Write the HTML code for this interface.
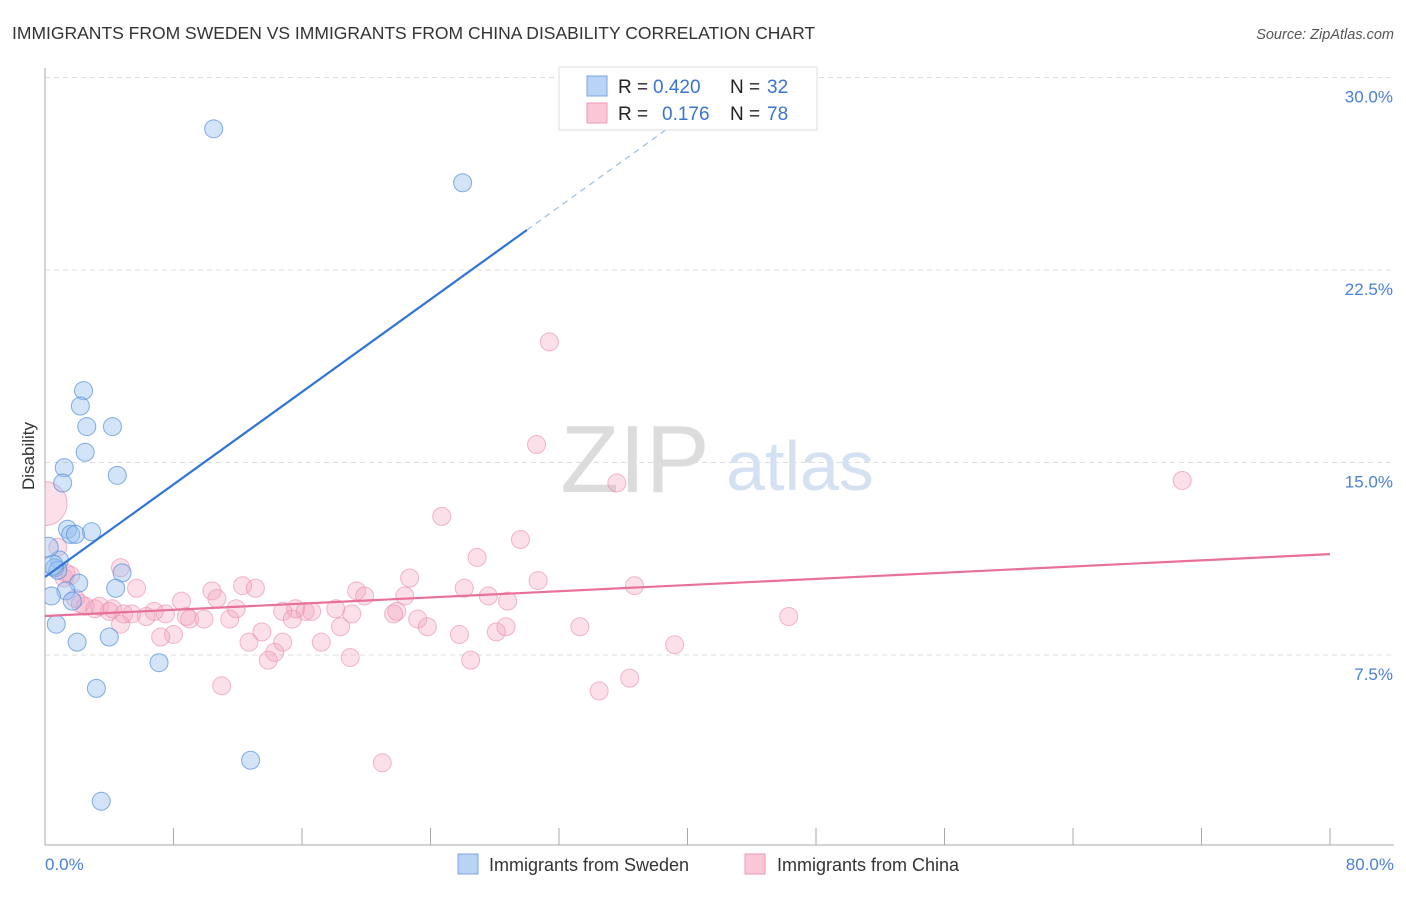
<!DOCTYPE html><html><head><meta charset="utf-8"><style>
body{margin:0;background:#fff;font-family:"Liberation Sans",sans-serif;}
svg text{font-family:"Liberation Sans",sans-serif;}
</style></head><body>
<svg width="1406" height="892">
<defs><clipPath id="plotclip"><rect x="45" y="60" width="1360" height="785"/></clipPath></defs>
<text x="12" y="39" font-size="17.5" fill="#333">IMMIGRANTS FROM SWEDEN VS IMMIGRANTS FROM CHINA DISABILITY CORRELATION CHART</text>
<text x="1394" y="39" font-size="14.5" fill="#555" font-style="italic" text-anchor="end">Source: ZipAtlas.com</text>
<g id="grid"></g>
<text x="635" y="492" font-size="96" fill="#dcdcdc" font-family="Liberation Serif" text-anchor="middle">ZIP</text>
<text x="800" y="490" font-size="70" fill="#d3e1f3" text-anchor="middle">atlas</text>
<g id="pts" clip-path="url(#plotclip)"></g><g id="lines"></g>
<text x="34" y="456" font-size="17" fill="#333" text-anchor="middle" transform="rotate(-90 34 456)">Disability</text>
<text x="45" y="870" font-size="17" fill="#4a7fd6">0.0%</text>
<text x="1394" y="870" font-size="17" fill="#4a7fd6" text-anchor="end">80.0%</text>
<g>
<rect x="559" y="67" width="258" height="63" fill="#fff" stroke="#ddd"/>
<rect x="587" y="76" width="20" height="20" fill="#b8d3f5" stroke="#7aa6e0"/>
<rect x="587" y="103" width="20" height="20" fill="#f9c7d6" stroke="#ee9ab5"/>
<text x="618" y="93" font-size="19" fill="#222">R =</text>
<text x="653" y="93" font-size="19" fill="#3a74d0">0.420</text>
<text x="730" y="93" font-size="19" fill="#222">N =</text>
<text x="767" y="93" font-size="19" fill="#3a74d0">32</text>
<text x="618" y="120" font-size="19" fill="#222">R =</text>
<text x="662" y="120" font-size="19" fill="#3a74d0">0.176</text>
<text x="730" y="120" font-size="19" fill="#222">N =</text>
<text x="767" y="120" font-size="19" fill="#3a74d0">78</text>
</g>
<g>
<rect x="458" y="854" width="20" height="20" fill="#b8d3f5" stroke="#7aa6e0"/>
<text x="489" y="871" font-size="18" fill="#333">Immigrants from Sweden</text>
<rect x="745" y="854" width="20" height="20" fill="#f9c7d6" stroke="#ee9ab5"/>
<text x="777" y="871" font-size="18" fill="#333">Immigrants from China</text>
</g>
</svg>
<script>
const yTicks=[7.5,15,22.5,30];
const swedenX=[10.5,26.0,2.4,2.2,2.6,4.2,2.5,1.2,4.5,1.1,1.4,1.6,1.9,2.9,0.9,0.6,0.8,4.8,2.1,1.3,0.4,4.4,1.7,0.7,4.0,2.0,7.1,3.2,12.8,3.5,0.2,0.5];
const swedenY=[28.0,25.9,17.8,17.2,16.4,16.4,15.4,14.8,14.5,14.2,12.4,12.2,12.2,12.3,11.2,10.9,10.8,10.7,10.3,10.0,9.8,10.1,9.6,8.7,8.2,8.0,7.2,6.2,3.4,1.8,11.7,11.0];
const chinaX=[31.4,30.6,35.6,70.8,24.7,29.6,26.9,22.7,30.7,36.7,26.1,27.6,28.8,19.4,19.9,22.4,18.1,19.1,21.9,21.7,23.2,23.8,25.8,28.1,28.7,33.3,46.3,39.2,19.0,26.5,34.5,36.4,11.0,21.0,5.7,4.7,10.4,10.7,12.3,13.1,8.5,11.9,7.5,8.8,6.8,5.4,6.3,9.9,11.5,9.0,4.7,13.5,16.2,15.6,14.8,15.4,16.6,18.4,8.0,7.2,12.7,14.8,14.3,13.9,17.2,2.5,3.1,3.4,4.0,1.9,1.2,1.6,0.8,0,1.3,2.2,4.2,4.9];
const chinaY=[19.7,15.7,14.2,14.3,12.9,12.0,11.3,10.5,10.4,10.2,10.1,9.8,9.6,10.0,9.8,9.8,9.3,9.1,9.2,9.1,8.9,8.6,8.3,8.4,8.6,8.6,9.0,7.9,7.4,7.3,6.1,6.6,6.3,3.3,10.1,10.9,10.0,9.7,10.2,10.1,9.6,9.3,9.1,9.0,9.2,9.1,9.0,8.9,8.9,8.9,8.7,8.4,9.2,9.3,9.2,8.9,9.2,8.6,8.3,8.2,8.0,8.0,7.6,7.3,8.0,9.4,9.3,9.4,9.2,9.7,10.5,10.6,11.7,13.4,10.7,9.5,9.3,9.1];
const swedenTrend=[10.54,24.06,30.0];
const chinaTrend=[9.02,11.43];
const X=v=>45+v/80*1285, Y=v=>847.5-v/7.5*192.5;
const NS="http://www.w3.org/2000/svg";
function mk(t,a,p){const e=document.createElementNS(NS,t);for(const k in a)e.setAttribute(k,a[k]);p.appendChild(e);return e;}
const g=document.getElementById('grid');
yTicks.forEach(t=>{const l=mk('line',{x1:45,x2:1394,y1:Y(t),y2:Y(t),stroke:'#ddd','stroke-dasharray':'5,4'},g);


const tx=mk('text',{x:1393,y:Y(t)+25,'font-size':17,fill:'#4a7fd6','text-anchor':'end'},g);tx.textContent=t.toFixed(1)+'%';

});
mk('line',{x1:45,x2:45,y1:68,y2:845,stroke:'#aaa'},g);
mk('line',{x1:45,x2:1394,y1:845,y2:845,stroke:'#aaa'},g);
for(let i=0;i<=10;i++){mk('line',{x1:X(i*8),x2:X(i*8),y1:828,y2:845,stroke:'#aaa'},g);}
const P=document.getElementById('pts');
chinaX.forEach((x,i)=>{const c=mk('circle',{cx:X(x),cy:Y(chinaY[i]),r:i==73?22:9,fill:'rgba(244,160,188,0.33)',stroke:'rgba(235,145,175,0.65)'},P);

});
swedenX.forEach((x,i)=>{const c=mk('circle',{cx:X(x),cy:Y(swedenY[i]),r:i>=30?10:9,fill:'rgba(150,190,240,0.42)',stroke:'rgba(80,140,220,0.7)'},P);

});
const L=document.getElementById('lines');
const sl=(swedenTrend[1]-swedenTrend[0])/30;
const b1=mk('line',{x1:X(0),y1:Y(swedenTrend[0]),x2:X(30),y2:Y(swedenTrend[1]),stroke:'#2f74d8','stroke-width':2.2},L);


const b2=mk('line',{x1:X(30),y1:Y(swedenTrend[1]),x2:X(40.5),y2:Y(swedenTrend[0]+sl*40.5),stroke:'#9bbbe6','stroke-width':1.2,'stroke-dasharray':'6,5'},L);


const p1=mk('line',{x1:X(0),y1:Y(chinaTrend[0]),x2:X(80),y2:Y(chinaTrend[1]),stroke:'#e8709a','stroke-width':2.2},L);


</script>
</body></html>
